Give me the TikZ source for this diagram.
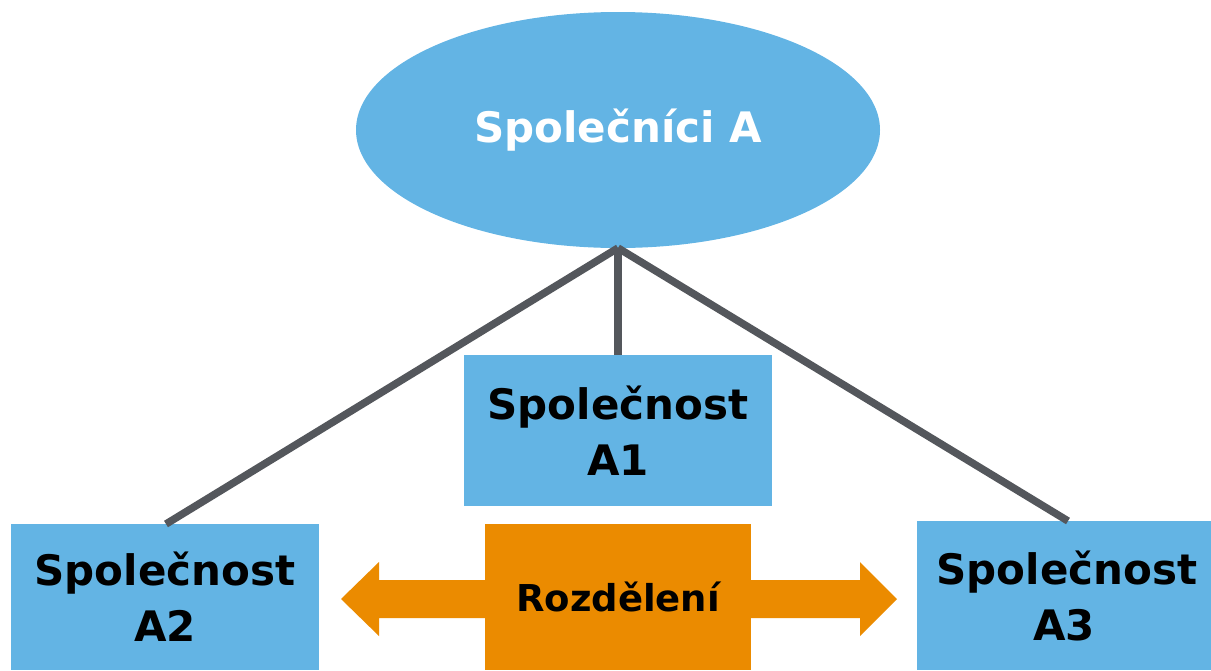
\documentclass[tikz,border=0pt]{standalone}
\usepackage{fontspec}
\setmainfont{DejaVu Sans}
\usetikzlibrary{shapes.geometric}
\definecolor{sky}{HTML}{63B4E4}
\definecolor{amber}{HTML}{EB8B00}
\definecolor{slate}{HTML}{54575C}
\tikzset{
  box/.style={fill=sky, inner sep=0pt, align=center, font=\fontsize{42}{56}\selectfont\bfseries},
  link/.style={draw=slate, line width=7.5pt},
}
\begin{document}
\begin{tikzpicture}[x=1pt,y=-1pt]
\useasboundingbox (0,0) rectangle (1211,670);
\node[ellipse, fill=sky, minimum width=524pt, minimum height=236pt, inner sep=0pt,
      text=white, font=\fontsize{42}{50}\selectfont\bfseries] (top) at (618,130) {Společníci A};
\coordinate (apex) at (618,248);
\node[box, minimum width=308pt, minimum height=151pt] (a1) at (618,430.5) {Společnost\\A1};
\node[box, minimum width=308pt, minimum height=146pt] (a2) at (165,597) {Společnost\\A2};
\node[box, minimum width=294pt, minimum height=149pt] (a3) at (1064,595.5) {\hspace*{6pt}Společnost\\A3};
\coordinate (a2t) at (166,524);
\coordinate (a3t) at (1068,521);
\draw[link] (apex) -- (a1.north);
\draw[link] (apex) -- (a2t);
\draw[link] (apex) -- (a3t);
\fill[amber] (341,599) -- (379,562) -- (379,580) -- (860,580) -- (860,562) -- (897,599)
  -- (860,636) -- (860,618) -- (379,618) -- (379,636) -- cycle;
\node[fill=amber, minimum width=266pt, minimum height=146pt, inner sep=0pt,
      font=\fontsize{37}{44}\selectfont\bfseries] (split) at (618,597) {Rozdělení};
\end{tikzpicture}
\end{document}
